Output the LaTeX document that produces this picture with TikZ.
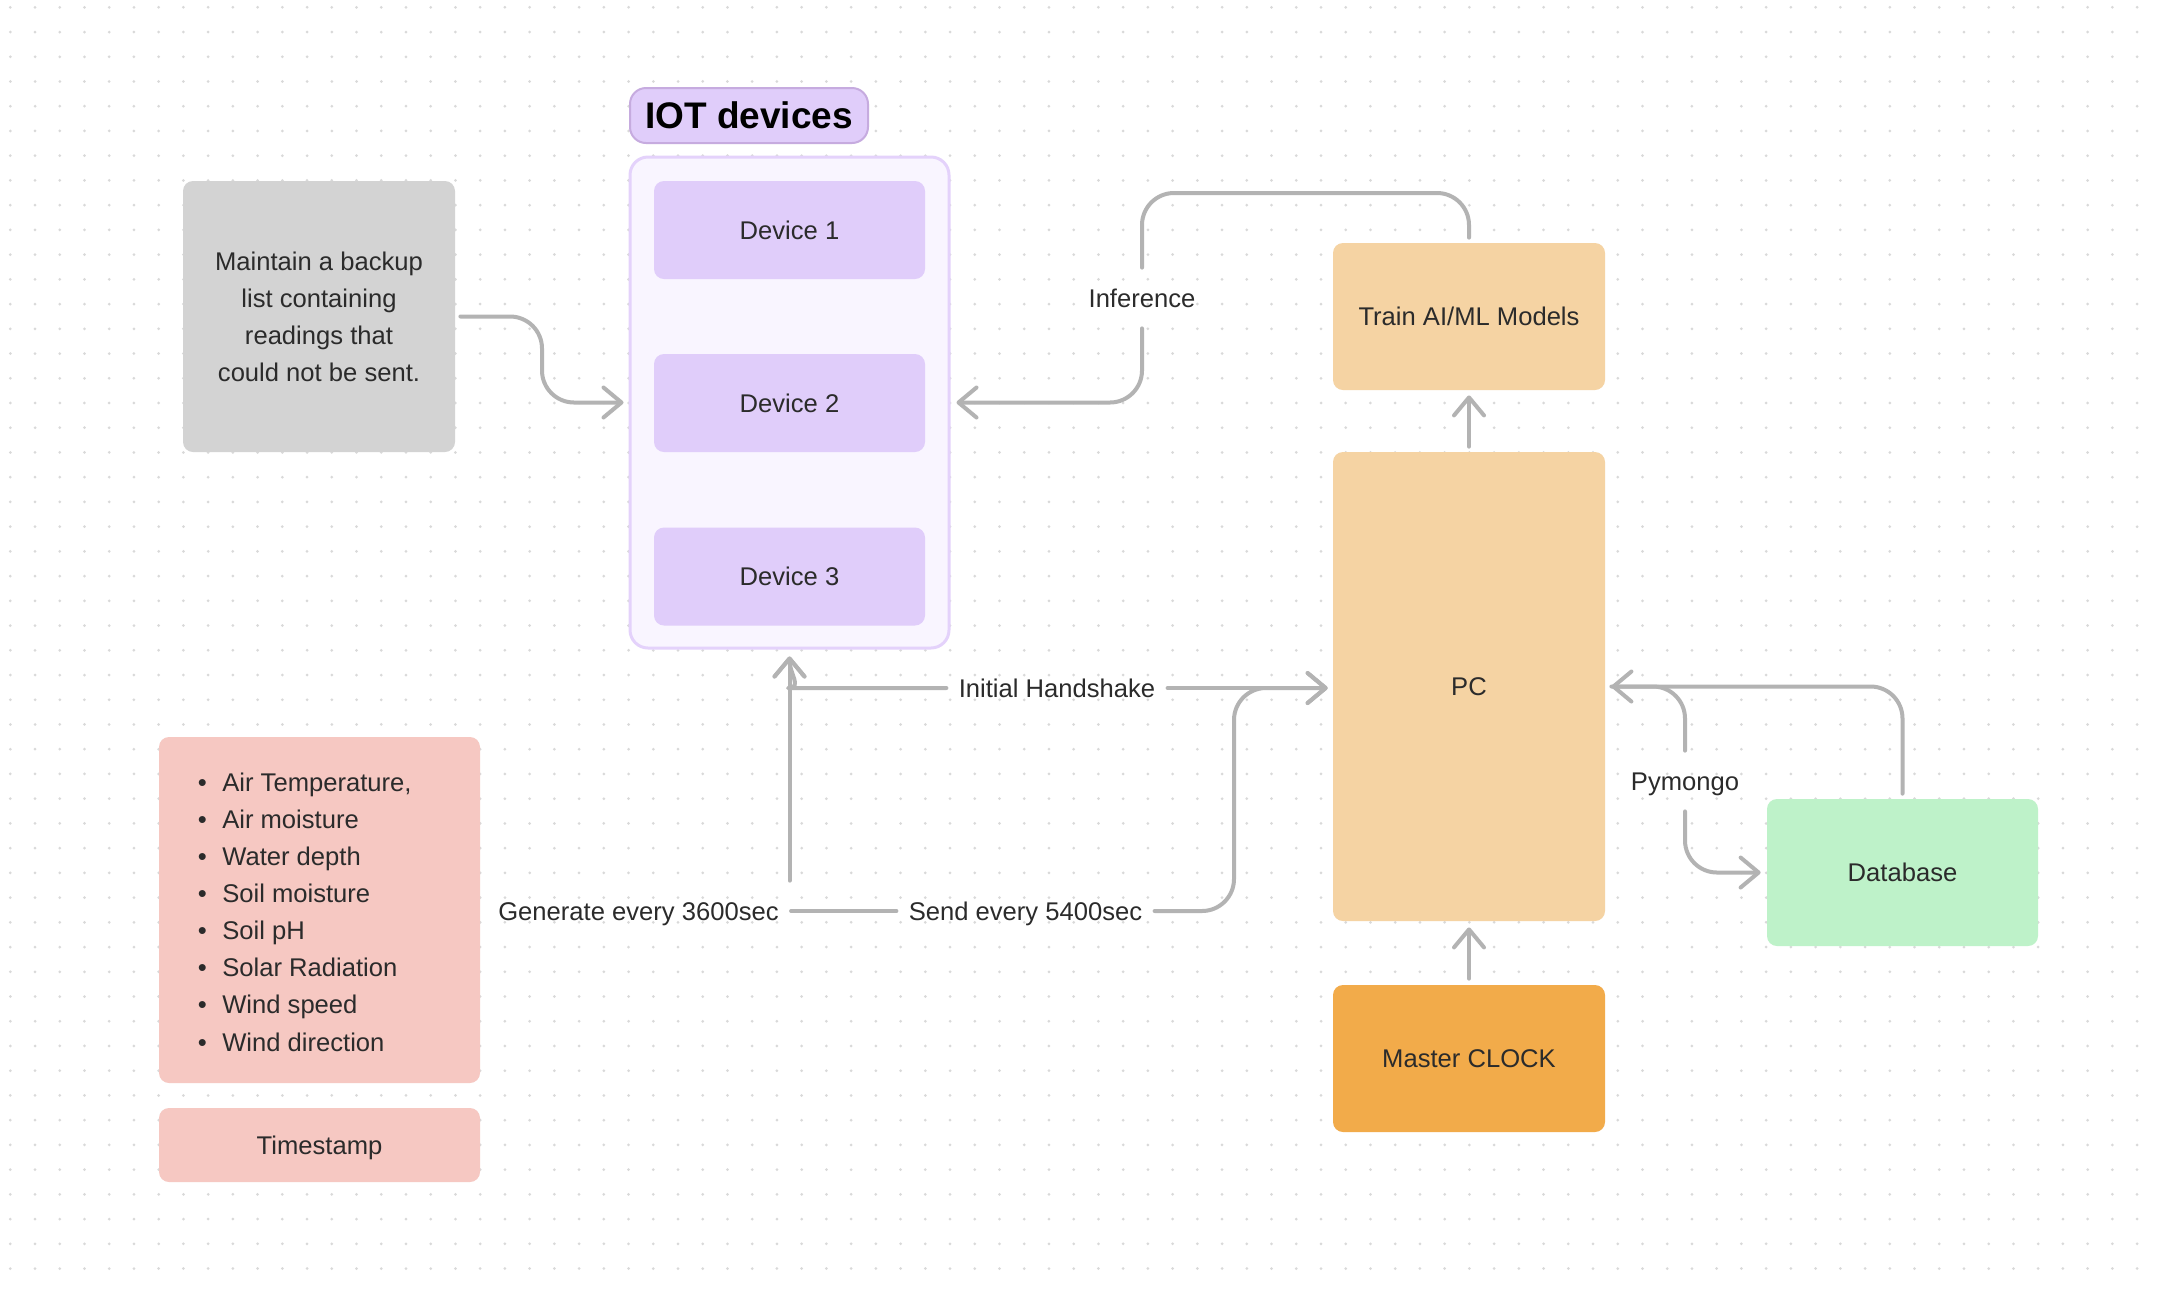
\documentclass[tikz,border=0pt]{standalone}
\usepackage{fontspec}
\setmainfont{Liberation Sans}
\usetikzlibrary{arrows.meta}
\definecolor{dotc}{HTML}{D9D9D9}
\definecolor{backc}{HTML}{D3D3D3}
\definecolor{iotc}{HTML}{E0CDFA}
\definecolor{iotb}{HTML}{C6ABDF}
\definecolor{contc}{HTML}{F9F5FF}
\definecolor{contb}{HTML}{E4D2FB}
\definecolor{devc}{HTML}{E0CDFA}
\definecolor{pcc}{HTML}{F5D3A3}
\definecolor{clockc}{HTML}{F2AB4A}
\definecolor{dbc}{HTML}{BEF2C9}
\definecolor{listc}{HTML}{F6C8C2}
\definecolor{lnk}{HTML}{B3B3B3}
\definecolor{txt}{HTML}{2B2B2B}
\newcommand{\fs}{\fontsize{12.8}{18.55}\selectfont}
\begin{document}
\begin{tikzpicture}[x=0.5pt,y=-0.5pt,
  box/.style={rectangle, rounded corners=5pt, inner sep=0pt, align=center, font=\fs, text=txt},
  oneline/.style={text height=9.2pt, text depth=0pt},
  lbl/.style={inner xsep=6pt, inner ysep=0pt, minimum height=30pt, text height=9.2pt, text depth=0pt, font=\fs, text=txt},
  conn/.style={draw=lnk, line width=2pt, line cap=round, line join=round, rounded corners=16pt},
  arr/.style={-{Straight Barb[length=9pt,width=15pt,round]}}]
\useasboundingbox (0,0) rectangle (2162,1292);
\fill[white] (0,0) rectangle (2162,1292);
\foreach \i in {0,...,86}{
  \foreach \j in {0,...,51}{
    \fill[dotc] (10.3+24.73*\i, 7.3+24.73*\j) circle (0.75pt);
  }
}
% nodes
\node[box, fill=backc, minimum width=136pt, minimum height=135.5pt] (backup) at (319,316.5)
  {Maintain a backup\\list containing\\readings that\\could not be sent.};
\node[box, oneline, rounded corners=8pt, fill=iotc, draw=iotb, line width=1pt, minimum width=119pt, minimum height=27.5pt,
  font=\fontsize{18.5}{22}\selectfont\bfseries, text=black, text height=13.3pt] (iot) at (749,115.5) {IOT devices};
\node[box, rounded corners=9pt, fill=contc, draw=contb, line width=1.5pt, minimum width=159.5pt, minimum height=245.5pt] (container) at (789.5,402.5) {};
\node[box, oneline, fill=devc, minimum width=135.5pt, minimum height=49pt] (dev1) at (789.5,230) {Device 1};
\node[box, oneline, fill=devc, minimum width=135.5pt, minimum height=49pt] (dev2) at (789.5,403) {Device 2};
\node[box, oneline, fill=devc, minimum width=135.5pt, minimum height=49pt] (dev3) at (789.5,576.5) {Device 3};
\node[box, oneline, fill=pcc, minimum width=136pt, minimum height=73.5pt] (train) at (1469,316.5) {Train AI/ML Models};
\node[box, oneline, fill=pcc, minimum width=136pt, minimum height=234.5pt] (pc) at (1469,686.5) {PC};
\node[box, oneline, fill=clockc, minimum width=136pt, minimum height=73.5pt] (clock) at (1469,1058.5) {Master CLOCK};
\node[box, oneline, fill=dbc, minimum width=135.5pt, minimum height=73.5pt] (db) at (1902.5,872.5) {Database};
\node[box, fill=listc, minimum width=160.5pt, minimum height=173pt] (list) at (319.5,910) {};
\node[anchor=west, align=left, font=\fs, text=txt, inner sep=0pt] (items) at (197.5,912)
  {\makebox[12.2pt][l]{\textbullet}Air Temperature,\\
   \makebox[12.2pt][l]{\textbullet}Air moisture\\
   \makebox[12.2pt][l]{\textbullet}Water depth\\
   \makebox[12.2pt][l]{\textbullet}Soil moisture\\
   \makebox[12.2pt][l]{\textbullet}Soil pH\\
   \makebox[12.2pt][l]{\textbullet}Solar Radiation\\
   \makebox[12.2pt][l]{\textbullet}Wind speed\\
   \makebox[12.2pt][l]{\textbullet}Wind direction};
\node[box, oneline, fill=listc, minimum width=160.5pt, minimum height=37pt] (ts) at (319.5,1145) {Timestamp};
% labels
\node[lbl] (inf) at (1142,298) {Inference};
\node[lbl] (pym) at (1685,781) {Pymongo};
\node[lbl] (hs) at (1057,688) {Initial Handshake};
\node[lbl] (gen) at (638.5,911) {Generate every 3600sec};
\node[lbl] (send) at (1025.5,911) {Send every 5400sec};
% connectors
\draw[conn,arr] ([xshift=2.5pt]backup.east) -- (542,316.5) -- (542,402.5) -- ([xshift=-2.5pt]container.west);
\draw[conn] ([yshift=2.5pt]train.north) -- (1469,193) -- (1142,193) -- (inf.north);
\draw[conn,arr] (inf.south) -- (1142,402.5) -- ([xshift=3pt]container.east);
\draw[conn,arr] ([yshift=2.5pt]pc.north) -- ([yshift=-2.5pt]train.south);
\draw[conn,arr] ([yshift=3pt]clock.north) -- ([yshift=-3pt]pc.south);
\draw[conn,arr] ([yshift=2.5pt]db.north) -- (1902.5,686.5) -- ([xshift=3pt]pc.east);
\draw[conn] ([xshift=3pt]pc.east) -- (1685,686.5) -- (pym.north);
\draw[conn,arr] (pym.south) -- (1685,872.5) -- ([xshift=-3pt]db.west);
\draw[conn,arr] (hs.west) -- (820,688) to[out=180,in=-90] ([yshift=-3.5pt]container.south);
\draw[conn,arr] (hs.east) -- ([xshift=-2.5pt]pc.west |- hs.east);
\draw[conn,arr] (gen.north -| container.south) -- ([yshift=-3.5pt]container.south);
\draw[conn] (gen.east) -- (send.west);
\draw[conn,arr] (send.east) -- (1234,911) -- (1234,688) -- ([xshift=-2.5pt]pc.west |- hs.east);
\end{tikzpicture}
\end{document}
